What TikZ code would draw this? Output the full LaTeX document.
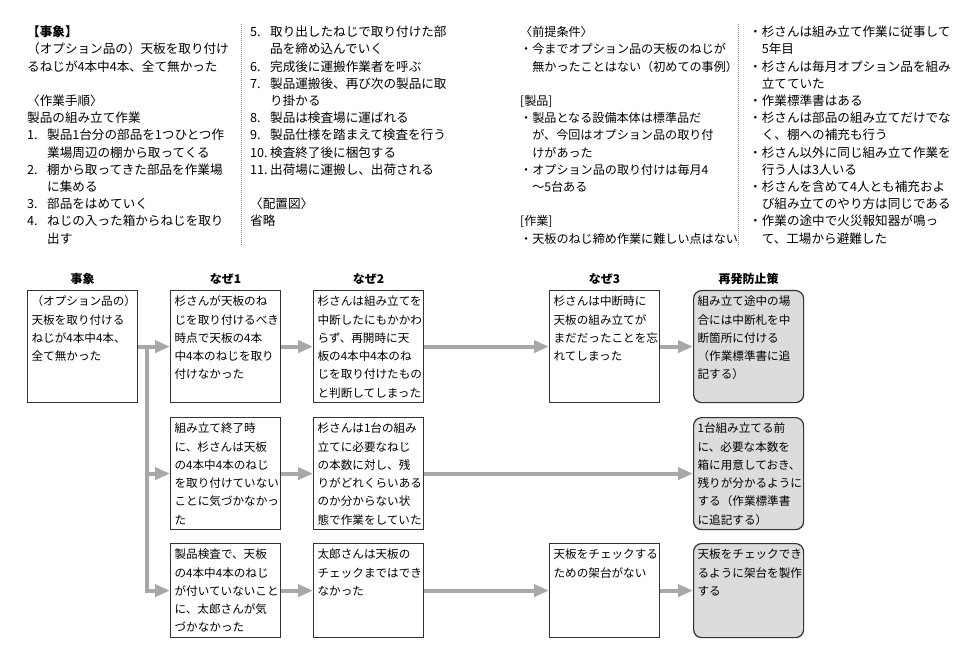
\documentclass[tikz,border=0pt]{standalone}
\usepackage{fontspec}
\setmainfont{Noto Sans CJK JP}
\usetikzlibrary{arrows.meta, positioning}
\definecolor{cline}{HTML}{333333}
\definecolor{carrow}{HTML}{A8A8A8}
\definecolor{cfill}{HTML}{DCDCDC}
\definecolor{cdots}{HTML}{8C8C8C}
% text inside a box: fixed height, text at the top
\newcommand{\cellbody}[2]{\parbox[t][#1][t]{102pt}{\fontsize{11.6}{18.3}\selectfont\strut #2}}
% one column of the notes above the chart
\newcommand{\colbody}[2][12.6]{\parbox[t]{225pt}{\fontsize{#1}{17.2}\selectfont #2}}
\newcommand{\itm}[1]{\makebox[20pt][l]{#1.}}
\newcommand{\cont}{\hspace*{20pt}}
\newcommand{\blt}{・}
\newcommand{\bcont}{\hspace*{1em}}
\tikzset{
  whybox/.style={draw=cline, line width=1.2pt, fill=white, anchor=north west,
    inner xsep=4pt, inner ysep=2.3pt},
  fixbox/.style={whybox, fill=cfill, rounded corners=8pt},
  head/.style={font=\bfseries\fontsize{12}{14}\selectfont, inner sep=1pt},
  flow/.style={draw=carrow, line width=4pt, -{Triangle[length=15pt, width=12pt]}},
  colnote/.style={anchor=base west, inner sep=0pt},
  sep/.style={draw=cdots, line width=0.7pt, dash pattern=on 0.7pt off 1.3pt},
}

\begin{document}
\begin{tikzpicture}[x=1pt, y=-1pt]
  \fill[white] (0,0) rectangle (980,660);
  \useasboundingbox (0,0) rectangle (980,660);

  % notes
  \node[colnote] (col1) at (27,36.8) {\colbody{%
    \textbf{【事象】}\\
    （オプション品の）天板を取り付け\\
    るねじが4本中4本、全て無かった\\[17.2pt]
    〈作業手順〉\\
    製品の組み立て作業\\
    \itm{1}製品1台分の部品を1つひとつ作\\
    \cont 業場周辺の棚から取ってくる\\
    \itm{2}棚から取ってきた部品を作業場\\
    \cont に集める\\
    \itm{3}部品をはめていく\\
    \itm{4}ねじの入った箱からねじを取り\\
    \cont 出す}};
  \node[colnote] (col2) at (250,36.8) {\colbody{%
    \itm{5}取り出したねじで取り付けた部\\
    \cont 品を締め込んでいく\\
    \itm{6}完成後に運搬作業者を呼ぶ\\
    \itm{7}製品運搬後、再び次の製品に取\\
    \cont り掛かる\\
    \itm{8}製品は検査場に運ばれる\\
    \itm{9}製品仕様を踏まえて検査を行う\\
    \itm{10}検査終了後に梱包する\\
    \itm{11}出荷場に運搬し、出荷される\\[17.2pt]
    〈配置図〉\\
    省略}};
  \node[colnote] (col3) at (520,36.8) {\colbody[12.1]{%
    〈前提条件〉\\
    \blt 今までオプション品の天板のねじが\\
    \bcont 無かったことはない（初めての事例）\\[17.2pt]
    {[}製品{]}\\
    \blt 製品となる設備本体は標準品だ\\
    \bcont が、今回はオプション品の取り付\\
    \bcont けがあった\\
    \blt オプション品の取り付けは毎月4\\
    \bcont ～5台ある\\[17.2pt]
    {[}作業{]}\\
    \blt 天板のねじ締め作業に難しい点はない}};
  \node[colnote] (col4) at (749,36.8) {\colbody{%
    \blt 杉さんは組み立て作業に従事して\\
    \bcont 5年目\\
    \blt 杉さんは毎月オプション品を組み\\
    \bcont 立てていた\\
    \blt 作業標準書はある\\
    \blt 杉さんは部品の組み立てだけでな\\
    \bcont く、棚への補充も行う\\
    \blt 杉さん以外に同じ組み立て作業を\\
    \bcont 行う人は3人いる\\
    \blt 杉さんを含めて4人とも補充およ\\
    \bcont び組み立てのやり方は同じである\\
    \blt 作業の途中で火災報知器が鳴っ\\
    \bcont て、工場から避難した}};
  \draw[sep] (241,24) -- (241,246);
  \draw[sep] (738,24) -- (738,246);

  % row 1
  \node[whybox] (ev) at (27,290) {\cellbody{107.4pt}{%
    （オプション品の）\\
    天板を取り付ける\\
    ねじが4本中4本、\\
    全て無かった}};
  \node[whybox] (w1a) at (170,290) {\cellbody{107.4pt}{%
    杉さんが天板のね\\
    じを取り付けるべき\\
    時点で天板の4本\\
    中4本のねじを取り\\
    付けなかった}};
  \node[whybox] (w2a) at (313,290) {\cellbody{107.4pt}{%
    杉さんは組み立てを\\
    中断したにもかかわ\\
    らず、再開時に天\\
    板の4本中4本のね\\
    じを取り付けたもの\\
    と判断してしまった}};
  \node[whybox] (w3a) at (549,290) {\cellbody{107.4pt}{%
    杉さんは中断時に\\
    天板の組み立てが\\
    まだだったことを忘\\
    れてしまった}};
  \node[fixbox] (fix1) at (693,290) {\cellbody{107.4pt}{%
    組み立て途中の場\\
    合には中断札を中\\
    断箇所に付ける\\
    （作業標準書に追\\
    記する）}};

  % row 2
  \node[whybox] (w1b) at (170,417) {\cellbody{107.4pt}{%
    組み立て終了時\\
    に、杉さんは天板\\
    の4本中4本のねじ\\
    を取り付けていない\\
    ことに気づかなかっ\\
    た}};
  \node[whybox] (w2b) at (313,417) {\cellbody{107.4pt}{%
    杉さんは1台の組み\\
    立てに必要なねじ\\
    の本数に対し、残\\
    りがどれくらいある\\
    のか分からない状\\
    態で作業をしていた}};
  \node[fixbox] (fix2) at (693,417) {\cellbody{107.4pt}{%
    1台組み立てる前\\
    に、必要な本数を\\
    箱に用意しておき、\\
    残りが分かるように\\
    する（作業標準書\\
    に追記する）}};

  % row 3
  \node[whybox] (w1c) at (170,543) {\cellbody{89.4pt}{%
    製品検査で、天板\\
    の4本中4本のねじ\\
    が付いていないこと\\
    に、太郎さんが気\\
    づかなかった}};
  \node[whybox] (w2c) at (313,543) {\cellbody{89.4pt}{%
    太郎さんは天板の\\
    チェックまではでき\\
    なかった}};
  \node[whybox] (w3c) at (549,543) {\cellbody{89.4pt}{%
    天板をチェックする\\
    ための架台がない}};
  \node[fixbox] (fix3) at (693,543) {\cellbody{89.4pt}{%
    天板をチェックでき\\
    るように架台を製作\\
    する}};

  % column heads
  \node[head, above=4pt of ev] (h-ev) {事象};
  \node[head, above=4pt of w1a] (h-w1) {なぜ1};
  \node[head, above=4pt of w2a] (h-w2) {なぜ2};
  \node[head, above=4pt of w3a] (h-w3) {なぜ3};
  \node[head, above=4pt of fix1] (h-fix) {再発防止策};

  % arrows
  \coordinate (fork) at ([xshift=9pt]ev.east);
  \draw[flow] (ev.east) -- (w1a.west);
  \draw[flow] (fork) |- (w1c.west);
  \draw[flow] (fork |- w1b.west) -- (w1b.west);
  \draw[flow] (w1a) -- (w2a);
  \draw[flow] (w2a) -- (w3a);
  \draw[flow] (w3a) -- (fix1);
  \draw[flow] (w1b) -- (w2b);
  \draw[flow] (w2b) -- (fix2);
  \draw[flow] (w1c) -- (w2c);
  \draw[flow] (w2c) -- (w3c);
  \draw[flow] (w3c) -- (fix3);
\end{tikzpicture}
\end{document}
